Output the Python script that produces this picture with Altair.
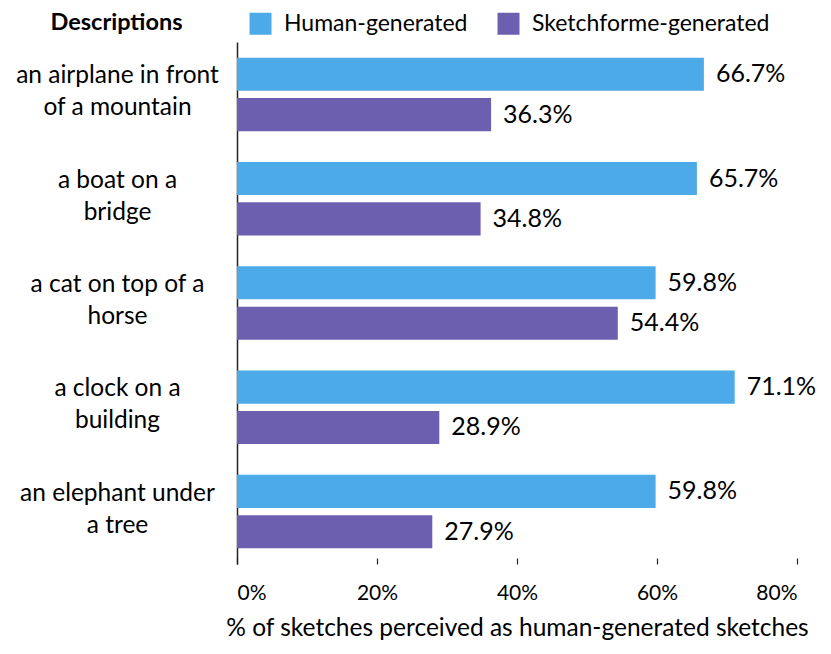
import altair as alt
import pandas as pd

descriptions = [
    "an airplane in front|of a mountain",
    "a boat on a|bridge",
    "a cat on top of a|horse",
    "a clock on a|building",
    "an elephant under|a tree",
]
series = ["Human-generated", "Sketchforme-generated"]
human = [66.7, 65.7, 59.8, 71.1, 59.8]
sketch = [36.3, 34.8, 54.4, 28.9, 27.9]
colors = ["#4DAAE8", "#6D5FB0"]

rows = []
for d, h, s in zip(descriptions, human, sketch):
    rows.append({"desc": d, "series": series[0], "value": h, "txt": f"{h:.1f}%"})
    rows.append({"desc": d, "series": series[1], "value": s, "txt": f"{s:.1f}%"})
df = pd.DataFrame(rows)

FONT = "Lato"

y_enc = alt.Y(
    "desc:N",
    sort=descriptions,
    scale=alt.Scale(paddingInner=0.295, paddingOuter=0.15),
    axis=alt.Axis(
        title="Descriptions",
        titleAngle=0,
        titleAlign="center",
        titleBaseline="middle",
        titleX=-121,
        titleY=-20,
        titleFontSize=23.5,
        titleFontWeight="bold",
        titleFont=FONT,
        titleColor="black",
        titleLimit=400,
        labelExpr="split(datum.label, '|')",
        labelAlign="center",
        labelBaseline="middle",
        labelPadding=120,
        labelOffset=-18,
        labelFontSize=24.5,
        labelLineHeight=32,
        labelFont=FONT,
        labelColor="black",
        labelLimit=400,
        ticks=False,
        tickSize=0,
        domain=True,
        domainColor="#222222",
        domainWidth=1.5,
        grid=False,
    ),
)
yoff = alt.YOffset("series:N", sort=series, scale=alt.Scale(paddingInner=0.18))
x_enc = alt.X(
    "value:Q",
    scale=alt.Scale(domain=[0, 80], nice=False),
    axis=alt.Axis(
        title="% of sketches perceived as human-generated sketches",
        values=[0, 20, 40, 60, 80],
        labelExpr="datum.value + '%'",
        labelFontSize=21,
        labelFont=FONT,
        labelColor="black",
        labelPadding=18,
        tickSize=6,
        tickColor="#222222",
        tickWidth=1.2,
        offset=-6,
        domain=False,
        grid=False,
        titleFontSize=24.5,
        titleFont=FONT,
        titleFontWeight="normal",
        titleColor="black",
        titlePadding=13,
        titleLimit=800,
    ),
)

bars = alt.Chart(df).mark_bar().encode(
    x=x_enc,
    y=y_enc,
    yOffset=yoff,
    color=alt.Color(
        "series:N",
        sort=series,
        scale=alt.Scale(domain=series, range=colors),
        legend=alt.Legend(
            title=None,
            orient="none",
            legendX=12,
            legendY=-30,
            direction="horizontal",
            symbolType="square",
            symbolSize=484,
            symbolStrokeWidth=0,
            symbolOpacity=1,
            labelFontSize=23,
            labelFont=FONT,
            labelColor="black",
            labelOffset=12,
            labelLimit=400,
            columnPadding=29,
        ),
    ),
)

texts = alt.Chart(df).mark_text(
    align="left", baseline="middle", dx=12, fontSize=25, font=FONT, color="black"
).encode(
    x=alt.X("value:Q"),
    y=alt.Y("desc:N", sort=descriptions),
    yOffset=alt.YOffset("series:N", sort=series),
    text="txt:N",
)

chart = (
    alt.layer(bars, texts)
    .properties(
        width=560,
        height=522,
        autosize=alt.AutoSizeParams(type="none"),
        padding={"left": 229, "top": 34, "right": 20, "bottom": 82},
    )
    .configure_view(stroke=None)
)

chart.save("out.html", embed_options={"renderer": "svg", "actions": False})
